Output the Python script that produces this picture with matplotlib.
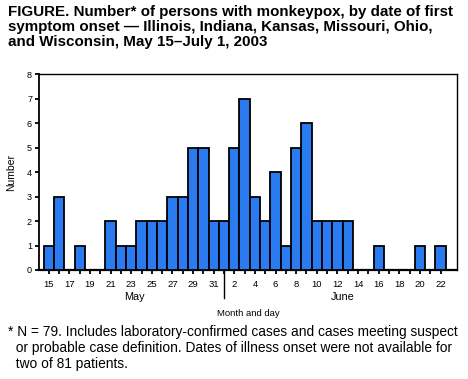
import matplotlib
matplotlib.use("Agg")
import matplotlib.pyplot as plt
import numpy as np

plt.rcParams['font.family'] = ['Liberation Sans', 'DejaVu Sans']

# Days from May 15 to June 22
day_labels = [str(d) for d in range(15, 32)] + [str(d) for d in range(1, 23)]
counts = [1, 3, 0, 1, 0, 0, 2, 1, 1, 2, 2, 2, 3, 3, 5, 5, 2,
          2, 5, 7, 3, 2, 4, 1, 5, 6, 2, 2, 2, 2, 0, 0, 1, 0, 0, 0, 1, 0, 1]
months = ["May", "June"]
yticks = [0, 1, 2, 3, 4, 5, 6, 7, 8]

fig = plt.figure(figsize=(4.68, 3.79), dpi=100)
ax = fig.add_axes([0.0833, 0.2876, 0.8932, 0.5171])

x = np.arange(len(counts))
ax.bar(x, counts, width=1.0, color='#2a7af0', edgecolor='black', linewidth=1.3, zorder=3)

ax.set_xlim(-0.95, 39.6)
ax.set_ylim(0, 8)
ax.set_yticks(yticks)
ax.set_yticklabels([str(v) for v in yticks], fontsize=6.5)

ax.set_xticks(x)
labels = []
for i, lab in enumerate(day_labels):
    if i <= 16:
        labels.append(lab if i % 2 == 0 else "")
    else:
        labels.append(lab if (i - 17) % 2 == 1 else "")
ax.set_xticklabels(labels, fontsize=6.8)
ax.tick_params(axis='both', direction='out', length=3, width=1.3, pad=2)
ax.tick_params(axis='x', pad=4)

for s in ax.spines.values():
    s.set_linewidth(1.0)
ax.spines['bottom'].set_linewidth(1.6)
ax.spines['left'].set_linewidth(1.3)

# Month separator at June 1
ax.axvline(17, ymin=-0.145, ymax=0, color='black', linewidth=1.0, clip_on=False)

# Month labels
ax.text(8.3, -0.112, months[0], transform=ax.get_xaxis_transform(), ha='center', va='top', fontsize=7.8)
ax.text(28.5, -0.112, months[1], transform=ax.get_xaxis_transform(), ha='center', va='top', fontsize=7.8)

ax.set_ylabel("Number", fontsize=7.5, labelpad=8)
fig.text(0.53, 1 - 313/379, "Month and day", ha='center', va='center', fontsize=6.8)

title = ("FIGURE. Number* of persons with monkeypox, by date of first\n"
         "symptom onset \u2014 Illinois, Indiana, Kansas, Missouri, Ohio,\n"
         "and Wisconsin, May 15\u2013July 1, 2003")
fig.text(0.017, 1 - 5/379, title, ha='left', va='top', fontsize=10.9, fontweight='bold', linespacing=1.1)

foot = ("* N = 79. Includes laboratory-confirmed cases and cases meeting suspect\n"
        "  or probable case definition. Dates of illness onset were not available for\n"
        "  two of 81 patients.")
fig.text(0.017, 1 - 325/379, foot, ha='left', va='top', fontsize=9.9, linespacing=1.18)

fig.savefig("out.png", dpi=100)
